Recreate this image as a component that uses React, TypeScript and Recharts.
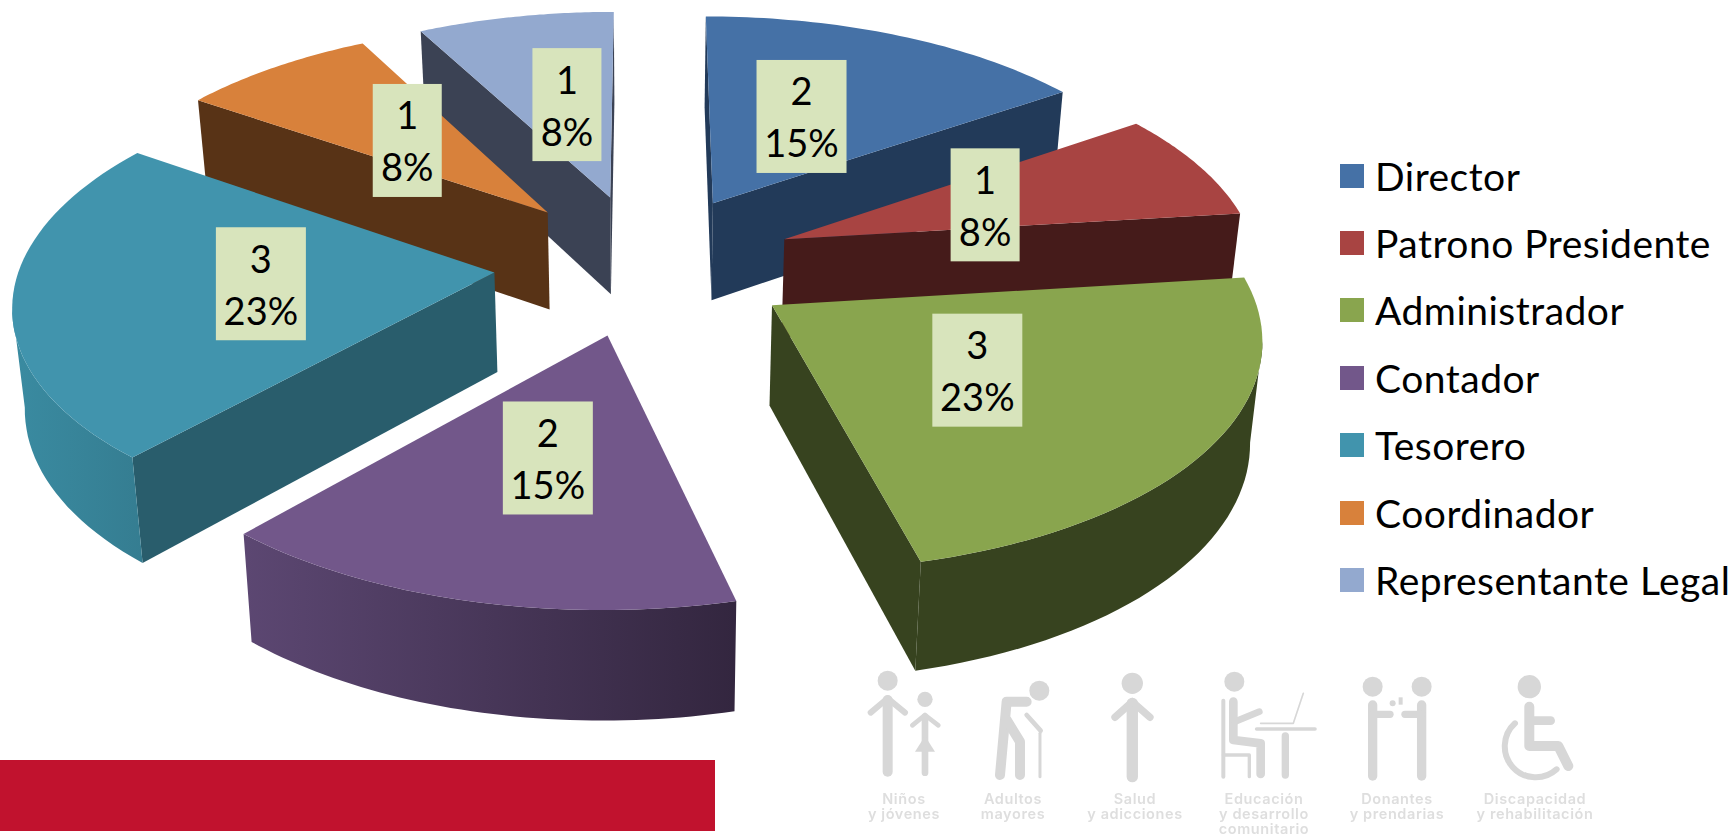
import React from "react"
import { PieChart, Pie, Legend } from "recharts"

const categories = ["Director", "Patrono Presidente", "Administrador", "Contador", "Tesorero", "Coordinador", "Representante Legal"]
const values = [2, 1, 3, 2, 3, 1, 1]

const topColors = ["#4571A6", "#A84442", "#89A54E", "#72578A", "#4194AD", "#D8813B", "#93A9CF"]
const wallColors = ["#223A59", "#451B1A", "#37431F", "#2E2339", "#295D6C", "#583316", "#3B4254"]
const rimFrom = ["#223A59", "#451B1A", "#37431F", "#5C4772", "#3A8BA1", "#583316", "#3B4254"]
const rimTo = ["#223A59", "#451B1A", "#37431F", "#33263F", "#357D91", "#583316", "#3B4254"]

const labelNudge = [[-6, -2], [-3, 2], [2, -1], [3, 3], [-3, -2], [-3, 1], [5, -1]]

const WIDTH = 1733
const HEIGHT = 836
const CX = 645
const CY = 264
const RADIUS = 474
const TILT = 0.47
const PERSP = 0.12
const DEPTH = 99
const BOTTOM_SCALE = 0.98
const EXPLODE = 151
const LABEL_RHO = 0.482
const FONT = "Lato, 'Open Sans', sans-serif"

const total = values.reduce((a, b) => a + b, 0)
const rows = categories.map((name, idx) => ({ name, value: values[idx], idx }))
const rightData = rows.slice(0, 3)
const leftData = rows.slice(3).reverse()
const rightSweep = (rightData.reduce((a, r) => a + r.value, 0) / total) * 360
const leftSweep = (leftData.reduce((a, r) => a + r.value, 0) / total) * 360

const RAD = Math.PI / 180

function project(u: number, v: number, z = 0) {
  const f = 1 / (1 - (PERSP * v) / RADIUS)
  const s = z ? BOTTOM_SCALE : 1
  return [CX + u * f * s, CY + v * TILT * f * s + DEPTH * z * f]
}

const pts = (list: number[][]) => list.map((p) => `${p[0].toFixed(1)},${p[1].toFixed(1)}`).join(" ")

function renderSlice(props: any) {
  const idx = props.idx ?? props.payload?.idx
  const a0 = Math.max(props.startAngle, props.endAngle)
  const a1 = Math.min(props.startAngle, props.endAngle)
  const mid = ((a0 + a1) / 2) * RAD
  const ox = Math.cos(mid) * EXPLODE
  const oy = -Math.sin(mid) * EXPLODE

  // outline walked clockwise on screen: apex, arc, back to the apex
  const plane: number[][] = [[ox, oy]]
  const steps = 48
  for (let i = 0; i <= steps; i++) {
    const a = (a0 + ((a1 - a0) * i) / steps) * RAD
    plane.push([ox + Math.cos(a) * RADIUS, oy - Math.sin(a) * RADIUS])
  }
  const top = plane.map((p) => project(p[0], p[1]))
  const low = plane.map((p) => project(p[0], p[1], 1))

  const walls: React.ReactNode[] = []
  const startTop = top[0]
  if (top[1][0] < startTop[0]) {
    walls.push(<polygon key="w1" points={pts([top[0], top[1], low[1], low[0]])} fill={wallColors[idx]} />)
  }
  if (top[top.length - 1][0] > startTop[0]) {
    const n = top.length - 1
    walls.push(<polygon key="w2" points={pts([top[n], top[0], low[0], low[n]])} fill={wallColors[idx]} />)
  }

  // the part of the rim that faces the viewer
  const rimTop: number[][] = []
  const rimLow: number[][] = []
  for (let i = 1; i < top.length - 1; i++) {
    if (top[i + 1][0] < top[i][0]) {
      if (!rimTop.length) {
        rimTop.push(top[i])
        rimLow.push(low[i])
      }
      rimTop.push(top[i + 1])
      rimLow.push(low[i + 1])
    }
  }
  const gradId = `rim-${idx}`

  return (
    <g key={`slice-${idx}`}>
      <defs>
        <linearGradient id={gradId} x1="0" y1="0" x2="1" y2="0">
          <stop offset="0%" stopColor={rimFrom[idx]} />
          <stop offset="100%" stopColor={rimTo[idx]} />
        </linearGradient>
      </defs>
      {walls}
      {rimTop.length > 1 && <polygon points={pts([...rimTop, ...rimLow.slice().reverse()])} fill={`url(#${gradId})`} />}
      <polygon points={pts(top)} fill={topColors[idx]} />
    </g>
  )
}

function renderLabel(props: any) {
  const idx = props.idx ?? props.payload?.idx
  const mid = props.midAngle * RAD
  const r = EXPLODE + LABEL_RHO * RADIUS
  const p = project(Math.cos(mid) * r, -Math.sin(mid) * r)
  const x = p[0] + labelNudge[idx][0]
  const y = p[1] + labelNudge[idx][1]
  const pct = `${Math.round((values[idx] / total) * 100)}%`
  const w = pct.length > 2 ? 90 : 69
  return (
    <g key={`label-${idx}`}>
      <rect x={x - w / 2} y={y - 56.5} width={w} height={113} fill="#D8E4BC" />
      <text x={x} y={y - 11} textAnchor="middle" fontFamily={FONT} fontSize={38} fill="#000">{values[idx]}</text>
      <text x={x} y={y + 41} textAnchor="middle" fontFamily={FONT} fontSize={38} fill="#000">{pct}</text>
    </g>
  )
}

function renderLegend() {
  return (
    <div style={{ fontFamily: FONT, fontSize: 39, letterSpacing: 0.5, color: "#000" }}>
      {categories.map((name, i) => (
        <div key={name} style={{ display: "flex", alignItems: "center", height: 67.4, whiteSpace: "nowrap" }}>
          <span style={{ width: 24, height: 24, background: topColors[i], marginRight: 11, display: "inline-block" }} />
          <span>{name}</span>
        </div>
      ))}
    </div>
  )
}

const GREY = "#D7D7D7"

function Line({ d, w }: { d: string; w: number }) {
  return <path d={d} fill="none" stroke={GREY} strokeWidth={w} strokeLinecap="round" strokeLinejoin="round" />
}

function Caption({ x, lines }: { x: number; lines: string[] }) {
  return (
    <>
      {lines.map((t, i) => (
        <text key={t} x={x} y={804 + i * 15} textAnchor="middle" fontFamily="Inter, sans-serif" fontWeight={600} fontSize={14.5} letterSpacing={0.6} fill="#DEDEDE">
          {t}
        </text>
      ))}
    </>
  )
}

// the pale row of pictograms under the chart
function Watermark() {
  return (
    <g filter="url(#soft)">
      <defs>
        <filter id="soft" x="-2%" y="-2%" width="104%" height="104%">
          <feGaussianBlur stdDeviation="0.6" />
        </filter>
      </defs>
      <g transform="translate(850 660) scale(0.3333)" fill={GREY}>
        <circle cx={113} cy={62} r={30} />
        <Line d="M113 120V335" w={30} />
        <Line d="M62 158L113 115L165 158" w={18} />
        <circle cx={225} cy={118} r={23} />
        <Line d="M225 170V338" w={20} />
        <Line d="M187 196L225 165L265 196" w={14} />
        <path d="M225 228L195 275H255Z" />
        <circle cx={568} cy={92} r={30} />
        <Line d="M530 125H470L450 345" w={30} />
        <Line d="M470 180L510 245V345" w={30} />
        <Line d="M530 165L572 212" w={14} />
        <Line d="M570 220V350" w={9} />
        <circle cx={847} cy={70} r={32} />
        <Line d="M847 130V350" w={34} />
        <Line d="M795 172L847 125L900 172" w={22} />
      </g>
      <g transform="translate(1190 660) scale(0.3333)" fill={GREY}>
        <circle cx={133} cy={65} r={30} />
        <Line d="M130 125V240L212 250V342" w={26} />
        <Line d="M135 185L208 155" w={20} />
        <Line d="M100 122V350" w={12} />
        <Line d="M100 285H178V350" w={10} />
        <Line d="M200 207H375" w={11} />
        <Line d="M286 228V345" w={22} />
        <Line d="M212 190H310L340 100" w={5} />
        <circle cx={548} cy={80} r={30} />
        <circle cx={695} cy={80} r={30} />
        <Line d="M548 135V348" w={28} />
        <Line d="M695 135V348" w={28} />
        <Line d="M548 163H600" w={22} />
        <Line d="M695 163H645" w={22} />
        <circle cx={608} cy={130} r={9} />
        <rect x={626} y={112} width={12} height={22} />
        <circle cx={1018} cy={80} r={35} />
        <Line d="M1018 140V258H1105L1135 318" w={30} />
        <Line d="M1018 182H1082" w={26} />
        <Line d="M975 190A90 90 0 1 0 1100 328" w={18} />
      </g>
      <Caption x={904} lines={["Niños", "y jóvenes"]} />
      <Caption x={1013} lines={["Adultos", "mayores"]} />
      <Caption x={1135} lines={["Salud", "y adicciones"]} />
      <Caption x={1264} lines={["Educación", "y desarrollo", "comunitario"]} />
      <Caption x={1397} lines={["Donantes", "y prendarias"]} />
      <Caption x={1535} lines={["Discapacidad", "y rehabilitación"]} />
    </g>
  )
}

export default function App() {
  return (
    <div style={{ position: "absolute", left: 0, top: 0, width: WIDTH, height: HEIGHT, overflow: "hidden", background: "#fff" }}>
      <PieChart width={WIDTH} height={HEIGHT} margin={{ top: 0, right: 0, bottom: 0, left: 0 }}>
        <rect x={0} y={760} width={715} height={71} fill="#C1122E" />
        <Watermark />
        <Pie
          data={leftData}
          dataKey="value"
          nameKey="name"
          cx={CX}
          cy={CY}
          outerRadius={RADIUS}
          startAngle={90}
          endAngle={90 + leftSweep}
          shape={renderSlice}
          label={renderLabel}
          labelLine={false}
          stroke="none"
          isAnimationActive={false}
        />
        <Pie
          data={rightData}
          dataKey="value"
          nameKey="name"
          cx={CX}
          cy={CY}
          outerRadius={RADIUS}
          startAngle={90}
          endAngle={90 - rightSweep}
          shape={renderSlice}
          label={renderLabel}
          labelLine={false}
          stroke="none"
          isAnimationActive={false}
        />
        <Legend
          layout="vertical"
          content={renderLegend}
          wrapperStyle={{ left: 1340, top: 142, width: 393, bottom: "auto", right: "auto" }}
        />
      </PieChart>
    </div>
  )
}
